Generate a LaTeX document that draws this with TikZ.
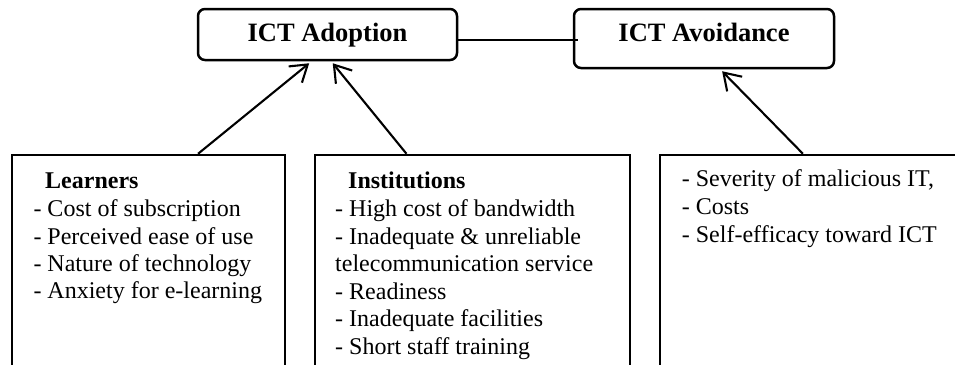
\documentclass[tikz,border=0pt]{standalone}
\usepackage{fontspec}
\setmainfont{Liberation Serif}
\usetikzlibrary{arrows.meta,calc}

\tikzset{
  titlebox/.style={draw, line width=2.5pt, rounded corners=7pt, inner sep=0pt},
  factorbox/.style={draw, line width=2.5pt, inner sep=0pt, minimum height=235pt},
  titletext/.style={inner sep=0pt, anchor=base, font=\fontsize{26.5}{30}\selectfont\bfseries},
  headtext/.style={inner sep=0pt, anchor=base west, font=\fontsize{24}{27}\selectfont\bfseries},
  itemtext/.style={inner sep=0pt, anchor=base west, font=\fontsize{24}{27}\selectfont},
  arr/.style={line width=2.1pt, -{Straight Barb[length=16pt, width=21pt, line width=2.1pt]}},
  link/.style={line width=2.1pt}
}

\begin{document}
\begin{tikzpicture}[x=1pt, y=-1pt]
  \useasboundingbox (0,0) rectangle (955,364);
  \clip (0,0) rectangle (955,364);
  \fill[white] (0,0) rectangle (955,364);

  % outcome boxes
  \node[titlebox, minimum width=259pt, minimum height=51pt] (adopt) at (327.5,34.5) {};
  \node[titlebox, minimum width=260pt, minimum height=59pt] (avoid) at (704,38.5) {};
  \node[titletext] (adoptlbl) at (327.5,41.7) {ICT Adoption};
  \node[titletext] (avoidlbl) at (704,41.7) {ICT Avoidance};

  % link between the two outcomes
  \coordinate (lnk) at (578,40);
  \draw[link] (adopt.east |- lnk) -- (lnk);

  % factor boxes (running past the page edge)
  \node[factorbox, minimum width=273pt] (learn) at (148.5,272.5) {};
  \node[factorbox, minimum width=315pt] (inst) at (472.5,272.5) {};
  \node[factorbox, minimum width=315pt] (risk) at (817.5,272.5) {};

  % learners
  \node[headtext] (learnhd) at (45,188.3) {Learners};
  \foreach \t [count=\i] in {- Cost of subscription, - Perceived ease of use,
      - Nature of technology, - Anxiety for e-learning}
    \node[itemtext] (learn\i) at (33.3,{216.7+27.3*(\i-1)}) {\t};

  % institutions
  \node[headtext] (insthd) at (348,188.3) {Institutions};
  \foreach \t [count=\i] in {- High cost of bandwidth, - Inadequate \& unreliable,
      telecommunication service, - Readiness, - Inadequate facilities,
      - Short staff training}
    \node[itemtext] (inst\i) at (335,{216.7+27.5*(\i-1)}) {\t};

  % avoidance factors
  \foreach \t [count=\i] in {{- Severity of malicious IT,}, - Costs,
      - Self-efficacy toward ICT}
    \node[itemtext] (risk\i) at (681.7,{186.7+28*(\i-1)}) {\t};

  % arrows
  \draw[arr] ($(learn.north west)!0.68!(learn.north east)$)
          -- ($(adopt.south west)!0.43!(adopt.south east)+(0,2)$);
  \draw[arr] ($(inst.north west)!0.292!(inst.north east)$)
          -- ($(adopt.south west)!0.52!(adopt.south east)+(0,2)$);
  \draw[arr] ($(risk.north west)!0.454!(risk.north east)$)
          -- ($(avoid.south west)!0.569!(avoid.south east)+(0,2)$);
\end{tikzpicture}
\end{document}
